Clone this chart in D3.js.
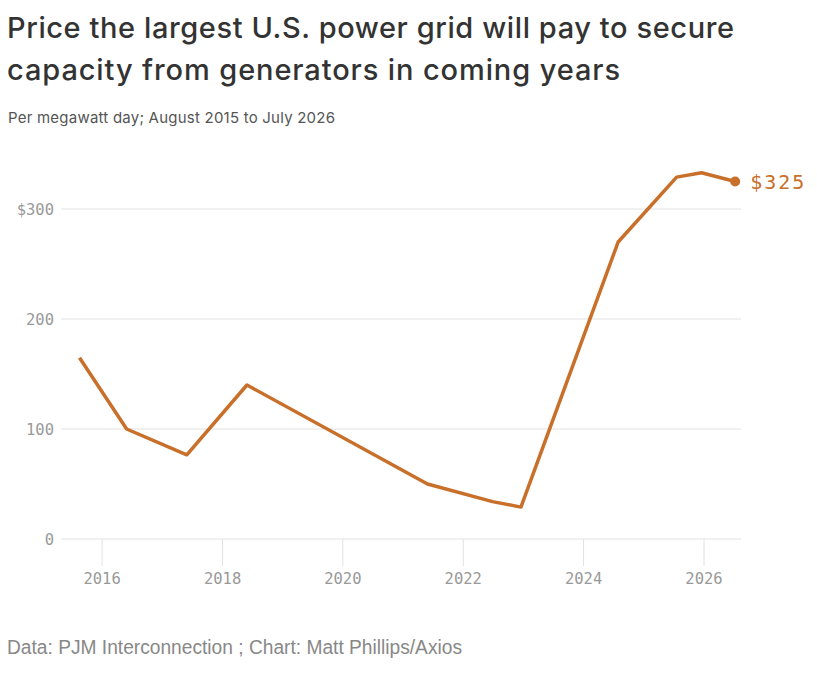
<!DOCTYPE html>
<html>
<head>
<meta charset="utf-8">
<script src="https://cdn.jsdelivr.net/npm/d3@7"></script>
<style>
  body { margin: 0; background: #fff; }
  svg { display: block; }
</style>
</head>
<body>
<script>
// auction dates and clearing prices ($/MW-day)
var dates = ["2015-08-20", "2016-06-01", "2017-06-01", "2018-06-01", "2021-06-01",
             "2022-07-01", "2022-12-20", "2024-08-01", "2025-07-22", "2025-12-20", "2026-07-12"];
var prices = [164.77, 100, 76.53, 140, 50, 34, 29, 270, 329, 333, 325];
var yTicks = [0, 100, 200, 300];
var xTickYears = [2016, 2018, 2020, 2022, 2024, 2026];

var W = 817, H = 684;
var orange = "#c86f2a";
var parse = d3.timeParse("%Y-%m-%d");
var data = dates.map((d, i) => ({ date: parse(d), value: prices[i] }));

var svg = d3.select("body").append("svg")
  .attr("width", W)
  .attr("height", H);

// title block
svg.append("text")
  .attr("x", 7).attr("y", 38)
  .attr("font-family", "Inter, sans-serif")
  .attr("font-weight", 500)
  .attr("font-size", 29)
  .attr("fill", "#333")
  .attr("textLength", 727)
  .attr("lengthAdjust", "spacing")
  .text("Price the largest U.S. power grid will pay to secure");
svg.append("text")
  .attr("x", 7).attr("y", 80)
  .attr("font-family", "Inter, sans-serif")
  .attr("font-weight", 500)
  .attr("font-size", 29)
  .attr("fill", "#333")
  .attr("textLength", 613)
  .attr("lengthAdjust", "spacing")
  .text("capacity from generators in coming years");
svg.append("text")
  .attr("x", 8).attr("y", 123)
  .attr("font-family", "Inter, sans-serif")
  .attr("font-size", 15)
  .attr("fill", "#555")
  .attr("textLength", 327)
  .attr("lengthAdjust", "spacing")
  .text("Per megawatt day; August 2015 to July 2026");

// scales
var x = d3.scaleTime()
  .domain([new Date(2016, 0, 1), new Date(2026, 0, 1)])
  .range([101.6, 703.5]);
var y = d3.scaleLinear()
  .domain([0, 300])
  .range([539, 209]);

var gridLeft = 61, gridRight = 741;

// horizontal gridlines + y labels
var yg = svg.append("g");
yg.selectAll("line").data(yTicks).join("line")
  .attr("x1", gridLeft).attr("x2", gridRight)
  .attr("y1", d => y(d)).attr("y2", d => y(d))
  .attr("stroke", "#e2e2e2").attr("stroke-width", 1);
yg.selectAll("text").data(yTicks).join("text")
  .attr("x", 54).attr("y", d => y(d)).attr("dy", "0.36em")
  .attr("text-anchor", "end")
  .attr("font-family", "'DejaVu Sans Mono', monospace")
  .attr("font-size", 15.5)
  .attr("fill", "#999")
  .text(d => d === 300 ? "$300" : d);

// x axis ticks and labels
var xAxis = d3.axisBottom(x)
  .tickValues(xTickYears.map(yr => new Date(yr, 0, 1)))
  .tickFormat(d3.timeFormat("%Y"))
  .tickSize(27)
  .tickPadding(7);
var xg = svg.append("g")
  .attr("transform", "translate(0," + y(0) + ")")
  .call(xAxis);
xg.select(".domain").remove();
xg.selectAll(".tick line").attr("stroke", "#e2e2e2");
xg.selectAll(".tick text")
  .attr("font-family", "'DejaVu Sans Mono', monospace")
  .attr("font-size", 15.5)
  .attr("fill", "#999");

// price line
var line = d3.line()
  .x(d => x(d.date))
  .y(d => y(d.value));
svg.append("path")
  .datum(data)
  .attr("d", line)
  .attr("fill", "none")
  .attr("stroke", orange)
  .attr("stroke-width", 3.5)
  .attr("stroke-linejoin", "round");

// end dot and label
var last = data[data.length - 1];
svg.append("circle")
  .attr("cx", x(last.date)).attr("cy", y(last.value))
  .attr("r", 5)
  .attr("fill", orange);
svg.append("text")
  .attr("x", x(last.date) + 15).attr("y", y(last.value)).attr("dy", "0.36em")
  .attr("font-family", "'DejaVu Sans Mono', monospace")
  .attr("font-size", 20)
  .attr("letter-spacing", 2)
  .attr("fill", orange)
  .text("$" + last.value);

// source line
svg.append("text")
  .attr("x", 7).attr("y", 654)
  .attr("font-family", "'Liberation Sans', Arial, sans-serif")
  .attr("font-size", 19.5)
  .attr("fill", "#888")
  .attr("textLength", 455)
  .attr("lengthAdjust", "spacingAndGlyphs")
  .text("Data: PJM Interconnection ; Chart: Matt Phillips/Axios");
</script>
</body>
</html>
